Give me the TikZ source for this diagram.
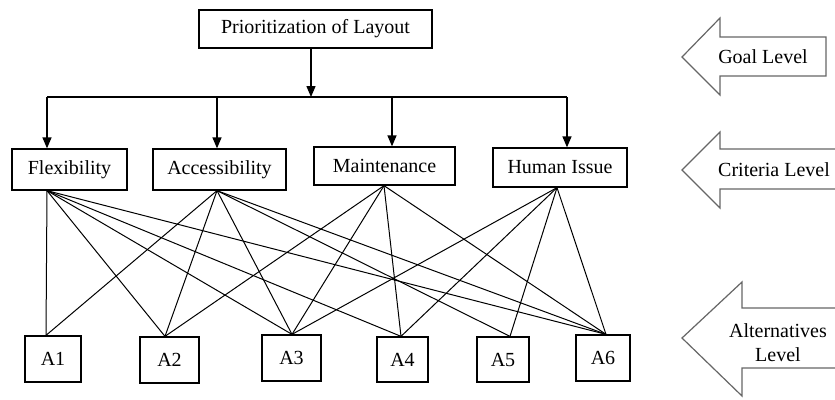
\documentclass[tikz,border=0pt]{standalone}
\usepackage{fontspec}
\setmainfont{Liberation Serif}
\usetikzlibrary{arrows.meta}
\begin{document}
\begin{tikzpicture}[x=1pt,y=-1pt,
  box/.style={draw,line width=1.3pt,inner sep=0pt,font=\fontsize{20}{24}\selectfont},
  link/.style={line width=1pt},
  arr/.style={line width=1.3pt,-{Triangle[length=11pt,width=9pt]}},
  lvl/.style={draw=black!60,line width=1.2pt,fill=white,line join=miter},
  lvltext/.style={font=\fontsize{20}{24}\selectfont,align=center,inner sep=0pt}]
\useasboundingbox (0,0) rectangle (835,399);
\fill[white] (0,0) rectangle (835,399);

% goal
\node[box,minimum width=233pt,minimum height=38pt] (G) at (315.5,29) {Prioritization of Layout};
% criteria
\node[box,minimum width=115pt,minimum height=41pt] (F) at (69.5,169.5) {Flexibility};
\node[box,minimum width=133pt,minimum height=41pt] (C) at (219.5,169.5) {Accessibility};
\node[box,minimum width=141pt,minimum height=38pt] (M) at (384.5,166) {Maintenance};
\node[box,minimum width=134pt,minimum height=39pt] (H) at (560,167.5) {Human Issue};
% alternatives
\node[box,minimum width=56pt,minimum height=46pt] (A1) at (53,359) {A1};
\node[box,minimum width=59pt,minimum height=46pt] (A2) at (169.5,360) {A2};
\node[box,minimum width=59pt,minimum height=46pt] (A3) at (291.5,358) {A3};
\node[box,minimum width=51pt,minimum height=45pt] (A4) at (402.5,359.5) {A4};
\node[box,minimum width=52pt,minimum height=45pt] (A5) at (503,359.5) {A5};
\node[box,minimum width=54pt,minimum height=46pt] (A6) at (603,358) {A6};

% goal to criteria
\coordinate (bus) at (311,97);
\coordinate (b1) at (47,97);
\coordinate (b2) at (217,97);
\coordinate (b3) at (392,97);
\coordinate (b4) at (567,97);
\draw[arr] (G.south -| bus) -- (bus);
\draw[line width=1.3pt] (b1) -- (b4);
\draw[arr] (b1) -- (b1 |- F.north);
\draw[arr] (b2) -- (b2 |- C.north);
\draw[arr] (b3) -- (b3 |- M.north);
\draw[arr] (b4) -- (b4 |- H.north);

% connector end points
\coordinate (Fs) at ([xshift=-22.5pt]F.south);
\coordinate (Cs) at ([xshift=-2.5pt]C.south);
\coordinate (Ms) at ([xshift=-0.5pt]M.south);
\coordinate (Hs) at ([xshift=-3pt]H.south);
\coordinate (a1) at ([xshift=-7pt]A1.north);
\coordinate (a2) at ([xshift=-4.5pt]A2.north);
\coordinate (a3) at ([xshift=0.5pt]A3.north);
\coordinate (a4) at ([xshift=-1.5pt]A4.north);
\coordinate (a5) at ([xshift=7pt]A5.north);
\coordinate (a6) at ([xshift=3pt]A6.north);

\foreach \t in {a1,a2,a3,a4,a6} \draw[link] (Fs) -- (\t);
\foreach \t in {a1,a2,a3,a5,a6} \draw[link] (Cs) -- (\t);
\foreach \t in {a2,a3,a4,a6} \draw[link] (Ms) -- (\t);
\foreach \t in {a3,a4,a5,a6} \draw[link] (Hs) -- (\t);

% level arrows
\draw[lvl] (826,37) -- (720,37) -- (720,18) -- (682,57) -- (720,95) -- (720,76) -- (826,76) -- cycle;
\node[lvltext] (gl) at (763,57) {Goal Level};
\draw[lvl] (836,149) -- (720,149) -- (720,132) -- (682,170) -- (720,208) -- (720,189) -- (836,189);
\node[lvltext] (cl) at (774,170) {Criteria Level};
\draw[lvl] (836,308) -- (742,308) -- (742,282) -- (682,338) -- (742,396) -- (742,368) -- (836,368);
\node[lvltext] (al) at (778,343) {Alternatives\\Level};
\end{tikzpicture}
\end{document}
